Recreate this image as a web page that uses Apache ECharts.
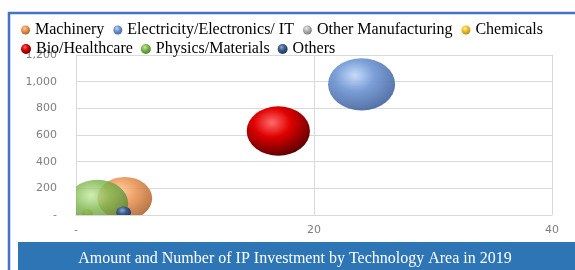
<!DOCTYPE html>
<html lang="en">
<head>
    <meta charset="UTF-8">
    <title>IP Investment by Technology Area 2019</title>
    <script src="https://cdn.jsdelivr.net/npm/echarts@6/dist/echarts.min.js"></script>
    <style>
        html, body { margin: 0; padding: 0; background: #fff; }
        #main { width: 575px; height: 270px; }
    </style>
</head>
<body>
<div id="main"></div>
<script type="text/javascript">
    // 数据
    var categories = ['Machinery', 'Electricity/Electronics/ IT', 'Other Manufacturing', 'Chemicals',
        'Bio/Healthcare', 'Physics/Materials', 'Others'];
    var xValues = [4.1, 24.0, 0.9, 1.0, 17.0, 1.8, 4.0];
    var yValues = [125, 980, 15, 15, 630, 85, 20];
    var bubbleSizes = [30, 45, 1, 1, 40, 38, 2.2];
    var xTicks = ['-', '20', '40'];

    // 每个气泡的颜色: [高光, 主色, 暗边]
    var ballColors = [
        ['#ffc89a', '#ec9555', '#a8602c'],
        ['#c2d8fa', '#7097d4', '#46659c'],
        ['#eeeeee', '#b4b4b4', '#7a7a7a'],
        ['#fff0a0', '#f2c230', '#b88a10'],
        ['#ff6a6a', '#e00000', '#5a0000'],
        ['#c6eaa2', '#80b84f', '#527f2c'],
        ['#8fa8d0', '#3c5d8e', '#1e3356']
    ];
    var ballOpacity = [0.88, 0.92, 0.8, 0.8, 1, 0.82, 1];

    var myChart = echarts.init(document.getElementById('main'));

    function ballFill(c) {
        return new echarts.graphic.RadialGradient(0.4, 0.33, 0.7, [
            {offset: 0, color: c[0]},
            {offset: 0.42, color: c[1]},
            {offset: 1, color: c[2]}
        ]);
    }

    var series = categories.map(function (name, i) {
        return {
            name: name,
            type: 'custom',
            clip: true,
            itemStyle: {color: ballFill(ballColors[i])},
            data: [[xValues[i], yValues[i], bubbleSizes[i]]],
            renderItem: function (params, api) {
                var p = api.coord([api.value(0), api.value(1)]);
                var r = Math.sqrt(api.value(2)) * 5;
                return {
                    type: 'circle',
                    x: p[0],
                    y: p[1],
                    scaleY: 0.78,
                    shape: {cx: 0, cy: 0, r: r},
                    style: {fill: ballFill(ballColors[i]), opacity: ballOpacity[i]}
                };
            }
        };
    });

    var legendText = {fontFamily: 'Liberation Serif', fontSize: 16, color: '#000'};

    var option = {
        animation: false,
        graphic: [
            {
                type: 'rect',
                shape: {x: 9, y: 13, width: 600, height: 300},
                style: {fill: 'none', stroke: '#4472c4', lineWidth: 2.5}
            },
            {
                type: 'rect',
                shape: {x: 18, y: 242, width: 570, height: 40},
                style: {fill: '#2e75b6'}
            },
            {
                type: 'text',
                x: 295,
                y: 259,
                style: {
                    text: 'Amount and Number of IP Investment by Technology Area in 2019',
                    fill: '#fff',
                    font: '16px "Liberation Serif"',
                    align: 'center',
                    verticalAlign: 'middle'
                }
            }
        ],
        legend: [
            {
                data: categories.slice(0, 4),
                left: 16, top: 17,
                icon: 'circle', itemWidth: 9, itemHeight: 9, itemGap: 9,
                textStyle: legendText
            },
            {
                data: categories.slice(4),
                left: 16, top: 36,
                icon: 'circle', itemWidth: 10, itemHeight: 10, itemGap: 8,
                textStyle: legendText
            }
        ],
        grid: {left: 76, right: 23, top: 55, bottom: 55},
        xAxis: {
            type: 'value',
            min: 0, max: 40, interval: 20,
            axisLine: {show: true, lineStyle: {color: '#d9d9d9'}},
            axisTick: {show: false},
            splitLine: {lineStyle: {color: '#d9d9d9'}},
            axisLabel: {
                margin: 10,
                color: '#7f7f7f',
                fontFamily: 'DejaVu Sans',
                fontSize: 11,
                formatter: function (v) { return xTicks[v / 20]; }
            }
        },
        yAxis: {
            type: 'value',
            min: 0, max: 1200, interval: 200,
            axisLine: {show: true, lineStyle: {color: '#d9d9d9'}},
            axisTick: {show: false},
            splitLine: {lineStyle: {color: '#d9d9d9'}},
            axisLabel: {
                margin: 19,
                color: '#7f7f7f',
                fontFamily: 'DejaVu Sans',
                fontSize: 11,
                formatter: function (v) { return v === 0 ? '-' : v.toLocaleString('en-US'); }
            }
        },
        series: series
    };

    myChart.setOption(option);
</script>
</body>
</html>
